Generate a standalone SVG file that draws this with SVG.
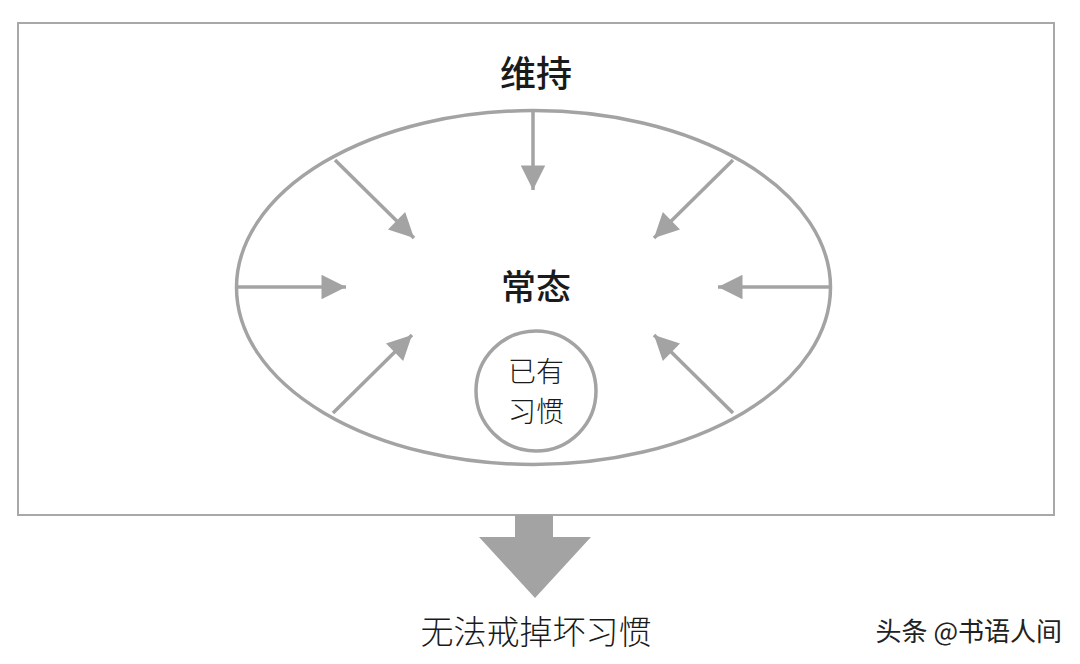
<svg xmlns="http://www.w3.org/2000/svg" width="1080" height="664" viewBox="0 0 1080 664">
<style>
.ln{stroke:#a3a3a3;stroke-width:3.5;fill:none}
.t{font-family:"Noto Sans CJK SC","Noto Sans CJK JP",sans-serif;text-anchor:middle;fill:#1a1a1a}
</style>
<defs>
<marker id="ah" viewBox="0 0 10 10" refX="10" refY="5" markerWidth="7.5" markerHeight="7" markerUnits="strokeWidth" orient="auto">
<path d="M0,0 L10,5 L0,10 Z" fill="#a3a3a3"/>
</marker>
</defs>
<rect width="1080" height="664" fill="#fff"/>
<rect id="frame" x="18" y="23" width="1036" height="492" fill="#fff" stroke="#a8a8a8" stroke-width="2"/>
<g id="ellipse"><ellipse cx="533.5" cy="287.5" rx="297" ry="177" class="ln"/></g>
<g id="label-weichi"><text x="536" y="87" class="t" font-size="36" font-weight="500">维持</text></g>
<g id="label-changtai"><text x="536" y="300" class="t" font-size="35" font-weight="500">常态</text></g>
<g id="habit">
<circle cx="536" cy="391" r="60" class="ln"/>
<text x="536" y="382" class="t" font-size="28" font-weight="300" fill="#222">已有</text>
<text x="536" y="422" class="t" font-size="28" font-weight="300" fill="#222">习惯</text>
</g>
<g id="connectors">
<line x1="533" y1="110" x2="533" y2="190" class="ln" marker-end="url(#ah)"/>
<line x1="236" y1="287" x2="346" y2="287" class="ln" marker-end="url(#ah)"/>
<line x1="831" y1="287" x2="718" y2="287" class="ln" marker-end="url(#ah)"/>
<line x1="335" y1="160" x2="414" y2="238" class="ln" marker-end="url(#ah)"/>
<line x1="733" y1="160" x2="654" y2="238" class="ln" marker-end="url(#ah)"/>
<line x1="333" y1="413" x2="412" y2="335" class="ln" marker-end="url(#ah)"/>
<line x1="733" y1="413" x2="654" y2="335" class="ln" marker-end="url(#ah)"/>
<path d="M515,515 L553,515 L553,537 L591,537 L535,598 L479,537 L515,537 Z" fill="#a3a3a3"/>
</g>
<g id="result"><text x="536" y="644" class="t" font-size="33" font-weight="300" fill="#333">无法戒掉坏习惯</text></g>
<g id="watermark"><text x="1062" y="641" font-family="'Noto Sans CJK SC',sans-serif" font-size="26" text-anchor="end" fill="#222">头条 @书语人间</text></g>
</svg>
